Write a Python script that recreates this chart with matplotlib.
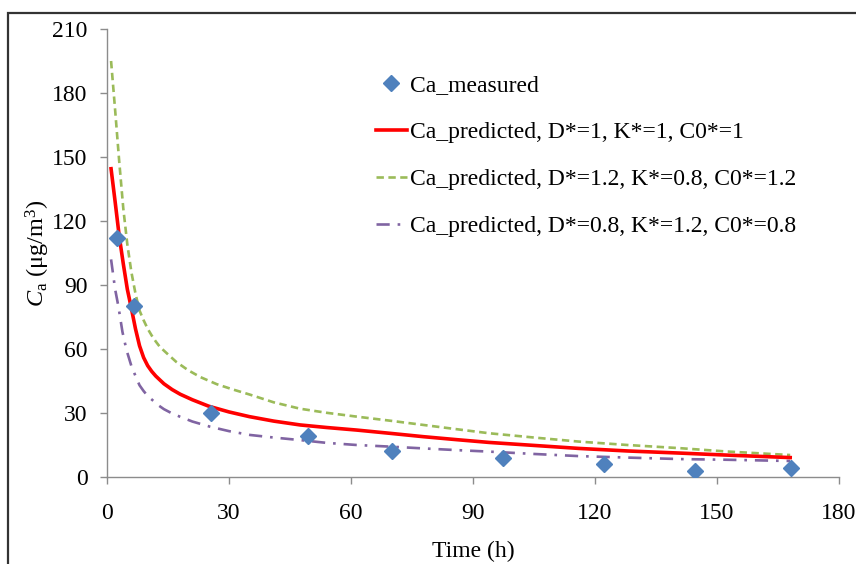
import matplotlib
matplotlib.use("Agg")
import matplotlib.pyplot as plt
from matplotlib.patches import Rectangle

plt.rcParams['font.family'] = ['Liberation Serif', 'DejaVu Serif']
plt.rcParams['mathtext.fontset'] = 'custom'
plt.rcParams['mathtext.rm'] = 'Liberation Serif'
plt.rcParams['mathtext.it'] = 'Liberation Serif:italic'

# measured data
t_meas = [2.5, 6.6, 25.6, 49.4, 70.0, 97.3, 122.3, 144.6, 168.2]
c_meas = [112, 80, 30, 19, 12, 8.7, 5.9, 3.0, 4.1]

# predicted, D*=1, K*=1, C0*=1
t_red = [1, 2, 3, 4, 5, 6, 7, 8, 9, 10, 11, 12, 14, 16, 18, 21, 25, 30, 35, 41, 47.5, 54, 61.4, 70, 77.8, 86, 94, 105, 116, 128, 141, 152, 168]
c_red = [144.5, 129, 113, 100, 88, 79, 69.5, 61.5, 56, 52.2, 49.5, 47.3, 43.7, 41, 38.8, 36.2, 33.2, 30.5, 28.3, 26.2, 24.4, 23.2, 22, 20.4, 18.9, 17.5, 16.2, 14.8, 13.4, 12.2, 11.2, 10.3, 9.1]

# predicted, D*=1.2, K*=0.8, C0*=1.2
t_grn = [1, 2, 3, 4, 5, 6, 7, 8, 9, 10, 11, 12, 13, 14.7, 17, 20, 23, 27, 31, 35, 41, 47.5, 54, 61.4, 70, 77.8, 86, 94, 105, 116, 128, 141, 152, 168]
c_grn = [195, 172, 148, 126, 109, 96, 86, 78, 73.5, 69.5, 66.3, 63.5, 61, 58, 54, 50, 46.8, 43.5, 41, 38.7, 35, 32, 30.1, 28.3, 26.3, 24.4, 22.4, 20.5, 18.5, 16.6, 15, 13.5, 12, 10.3]

# predicted, D*=0.8, K*=1.2, C0*=0.8
t_pur = [1, 2, 2.8, 3.8, 4.8, 6, 7.3, 8, 9, 10, 11.2, 12.5, 14, 16, 17.9, 21, 25.3, 30, 35.2, 41, 47.5, 54, 61.4, 70, 77.8, 86, 94, 105, 116, 128, 141, 152, 168]
c_pur = [102, 88, 80, 68, 59.5, 52, 46, 43, 40.3, 38, 36, 33.8, 31.8, 29.8, 28.3, 26, 23.6, 21.5, 19.7, 18.5, 17.3, 16, 15, 14.2, 13.4, 12.6, 11.9, 10.8, 9.8, 9.1, 8.4, 8.1, 7.5]

labels = ['Ca_measured',
          'Ca_predicted, D*=1, K*=1, C0*=1',
          'Ca_predicted, D*=1.2, K*=0.8, C0*=1.2',
          'Ca_predicted, D*=0.8, K*=1.2, C0*=0.8']
x_ticks = [0, 30, 60, 90, 120, 150, 180]
y_ticks = [0, 30, 60, 90, 120, 150, 180, 210]

W, H = 856, 564
fig = plt.figure(figsize=(W / 100, H / 100), dpi=100)
ax = fig.add_axes([107 / W, 1 - 477 / H, (839 - 107) / W, (477 - 29) / H])

ax.plot(t_meas, c_meas, linestyle='none', marker='D', markersize=8.5,
        color='#4F81BD', label=labels[0], zorder=5)
ax.plot(t_red, c_red, color='#FF0000', lw=2.6, label=labels[1], zorder=4)
ax.plot(t_grn, c_grn, color='#9BBB59', lw=1.9, linestyle=(0, (2.8, 1.7)), label=labels[2], zorder=3)
ax.plot(t_pur, c_pur, color='#8064A2', lw=1.9, linestyle=(0, (5, 3, 1, 3)), label=labels[3], zorder=3)

ax.set_xlim(0, 180)
ax.set_ylim(0, 210)
ax.set_xticks(x_ticks)
ax.set_yticks(y_ticks)
for s in ['top', 'right']:
    ax.spines[s].set_visible(False)
for s in ['left', 'bottom']:
    ax.spines[s].set_color('#8C8C8C')
    ax.spines[s].set_linewidth(1.0)
ax.tick_params(axis='both', direction='out', length=5, width=1.0, color='#8C8C8C',
               labelsize=17, labelcolor='black')
ax.tick_params(axis='x', pad=14)
ax.tick_params(axis='y', pad=9)

ax.set_xlabel('Time (h)', fontsize=17, labelpad=12)
ax.set_ylabel(r'$\mathit{C}_{\mathrm{a}}$ (μg/m$^{3}$)', fontsize=17.5, labelpad=0)

leg = ax.legend(loc='upper left', bbox_to_anchor=((376 - 107) / 732, (477 - 75) / 448),
                frameon=False, fontsize=17, handlelength=1.3, handletextpad=0.12,
                labelspacing=1.07, borderpad=0, borderaxespad=0)

fig.patches.append(Rectangle((8 / W, -0.1), 1.2, 1 - 13 / H + 0.1, transform=fig.transFigure,
                             fill=False, lw=1.6, edgecolor='#333333'))

fig.savefig('out.png', dpi=100)
